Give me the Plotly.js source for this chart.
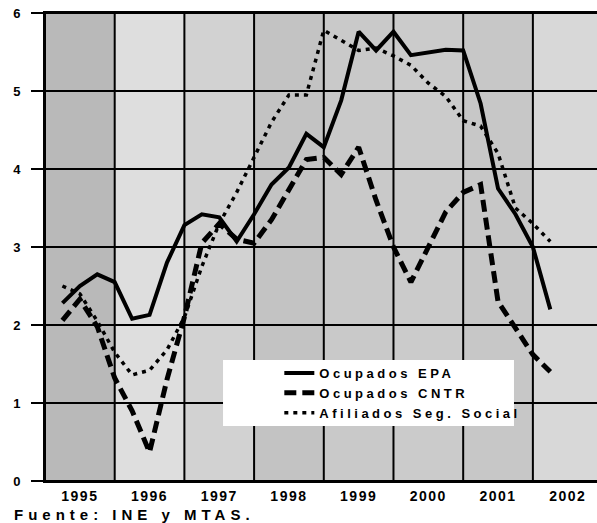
<!DOCTYPE html>
<html>
<head>
<meta charset="utf-8">
<script src="https://cdn.plot.ly/plotly-3.0.1.min.js"></script>
<style>
html,body{margin:0;padding:0;background:#fff;}
#chart{width:597px;height:523px;}
.legendtext{letter-spacing:3.5px;}
.xtick text{letter-spacing:1.5px;}
.annotation-text{letter-spacing:5px;}
</style>
</head>
<body>
<div id="chart"></div>
<script>
// Years shown on the x axis (bands)
const years = [1995, 1996, 1997, 1998, 1999, 2000, 2001, 2002];
const yearLabels = ['1995', '1996', '1997', '1998', '1999', '2000', '2001', '2002'];
const yTicks = [0, 1, 2, 3, 4, 5, 6];

// Quarterly periods (year, quarter)
const periodYear = [1995,1995,1995,1995,1996,1996,1996,1996,1997,1997,1997,1997,1998,1998,1998,1998,1999,1999,1999,1999,2000,2000,2000,2000,2001,2001,2001,2001,2002];
const periodQuarter = [1,2,3,4,1,2,3,4,1,2,3,4,1,2,3,4,1,2,3,4,1,2,3,4,1,2,3,4,1];

// Series (% interannual growth)
const ocupadosEPA = [2.28,2.5,2.65,2.55,2.08,2.13,2.8,3.28,3.42,3.38,3.07,3.42,3.8,4.02,4.45,4.28,4.88,5.76,5.52,5.76,5.46,5.5,5.53,5.52,4.84,3.75,3.42,3.0,2.2];
const ocupadosCNTR = [2.06,2.33,1.98,1.32,0.9,0.37,1.3,2.1,3.05,3.3,3.1,3.05,3.35,3.75,4.12,4.15,3.93,4.28,3.6,3.0,2.55,3.0,3.45,3.7,3.8,2.3,1.95,1.62,1.4];
const afiliadosSS = [2.5,2.4,2.05,1.65,1.36,1.42,1.68,2.1,2.75,3.3,3.7,4.15,4.6,4.95,4.95,5.78,5.65,5.52,5.55,5.45,5.33,5.1,4.93,4.62,4.55,4.2,3.5,3.3,3.07];

const seriesNames = ['Ocupados EPA', 'Ocupados CNTR', 'Afiliados Seg. Social'];
const sourceNote = 'Fuente: INE y MTAS.';

// Band shades (style)
const bandShades = ['#b9b9b9','#dedede','#d2d2d2','#c3c3c3','#c9c9c9','#cbcbcb','#c7c7c7','#d8d8d8'];
const xRange = [1995, 2002.92];

const xs = periodYear.map((y, i) => y + periodQuarter[i] / 4);

const traces = [
  {x: xs, y: ocupadosEPA, name: seriesNames[0], mode: 'lines',
   line: {color: '#000', width: 4, dash: 'solid'}},
  {x: xs, y: ocupadosCNTR, name: seriesNames[1], mode: 'lines',
   line: {color: '#000', width: 5, dash: '12px,6px'}},
  {x: xs, y: afiliadosSS, name: seriesNames[2], mode: 'lines',
   line: {color: '#000', width: 3.5, dash: '4px,5px'}}
];

const shapes = years.map((y, i) => ({
  type: 'rect', xref: 'x', yref: 'y', x0: y, x1: y + 1, y0: 0, y1: 6,
  fillcolor: bandShades[i], line: {width: 0}, layer: 'below'
}));
// grid lines at year boundaries and at each y tick
years.forEach(y => shapes.push({type: 'line', xref: 'x', yref: 'y', x0: y, x1: y, y0: 0, y1: 6,
  line: {color: '#000', width: 2}, layer: 'between'}));
yTicks.forEach(v => shapes.push({type: 'line', xref: 'x', yref: 'y', x0: xRange[0], x1: xRange[1], y0: v, y1: v,
  line: {color: '#000', width: 2}, layer: 'between'}));
// white box behind legend
shapes.push({type: 'rect', xref: 'paper', yref: 'paper', x0: 0.3225, x1: 0.8496, y0: 0.1175, y1: 0.2585,
  fillcolor: '#ffffff', line: {width: 0}, layer: 'above'});

const layout = {
  width: 597, height: 523,
  margin: {l: 45, r: 0, t: 13, b: 42},
  paper_bgcolor: '#ffffff',
  plot_bgcolor: '#cccccc',
  font: {family: 'Liberation Sans, Arial, sans-serif', color: '#000'},
  showlegend: true,
  legend: {x: 0.4245, y: 0.2628, xanchor: 'left', yanchor: 'top',
    bgcolor: 'rgba(255,255,255,0)', borderwidth: 0,
    font: {size: 13, weight: 700, family: 'Liberation Sans, Arial, sans-serif'}},
  xaxis: {
    range: xRange, fixedrange: true,
    tickmode: 'array', tickvals: years.map(y => y + 0.5), ticktext: yearLabels,
    ticks: '', showgrid: false, zeroline: false,
    showline: true, mirror: true, linecolor: '#000', linewidth: 2,
    ticklabelstandoff: 1,
    tickfont: {size: 14, weight: 700}
  },
  yaxis: {
    range: [0, 6], fixedrange: true,
    tickmode: 'array', tickvals: yTicks,
    ticks: 'outside', ticklen: 12, tickwidth: 2, tickcolor: '#000',
    showgrid: false, zeroline: false,
    showline: true, linecolor: '#000', linewidth: 2,
    ticklabelstandoff: 8,
    tickfont: {size: 13, weight: 700}
  },
  shapes: shapes,
  annotations: [{
    text: sourceNote, xref: 'paper', yref: 'paper', x: -0.06, y: -0.0725,
    xanchor: 'left', yanchor: 'middle', showarrow: false,
    font: {size: 15, weight: 700, family: 'Liberation Sans, Arial, sans-serif'}
  }]
};

Plotly.newPlot('chart', traces, layout, {displayModeBar: false, staticPlot: true});
</script>
</body>
</html>
